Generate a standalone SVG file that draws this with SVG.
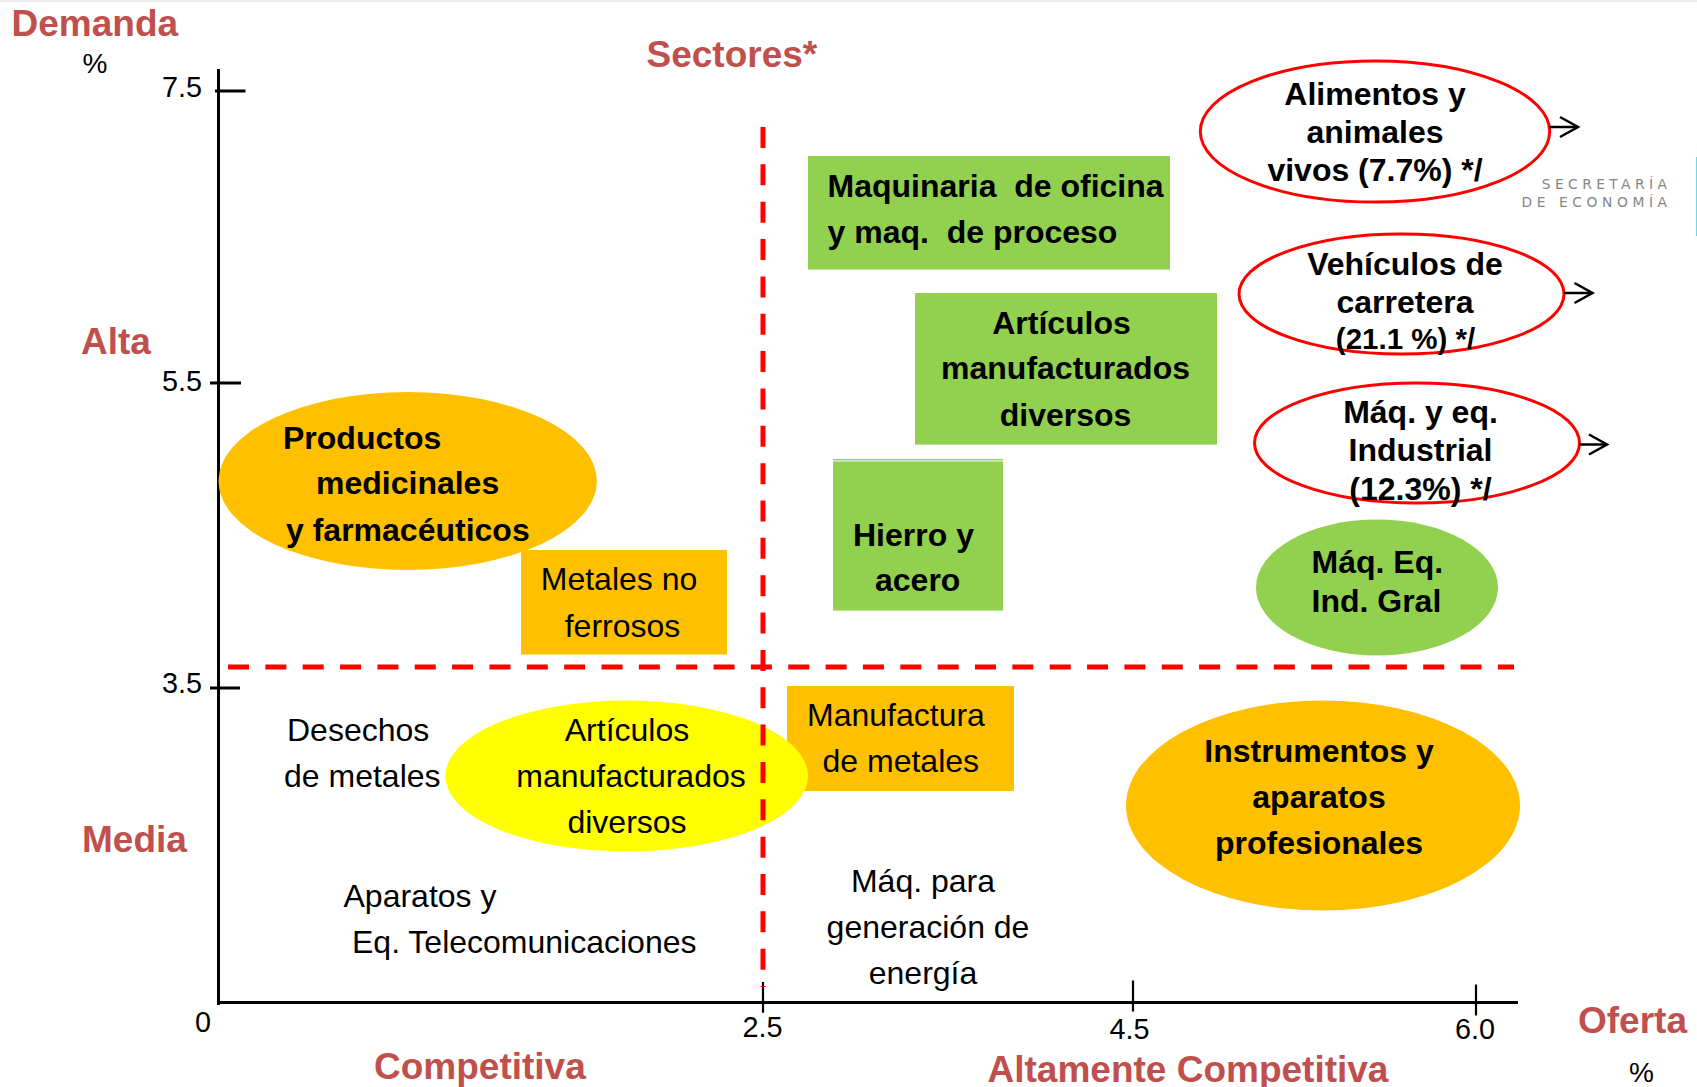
<svg xmlns="http://www.w3.org/2000/svg" width="1697" height="1087" viewBox="0 0 1697 1087">
<style>
text{font-family:"Liberation Sans",Arial,sans-serif;font-size:32px;fill:#000;white-space:pre}
.b{font-weight:700}
.m{text-anchor:middle}
.h{font-weight:700;font-size:37px;fill:#C0504D}
.n{font-size:28.8px}
.p{font-size:28px}
.s{font-size:29.5px}
.lg{font-family:"DejaVu Sans",sans-serif;font-size:13.8px;fill:#858585}
.green{fill:#92D050}
.orange{fill:#FFC000}
.yellow{fill:#FFFF00}
.ring{fill:#fff;stroke:#FF0000;stroke-width:3}
.ax{stroke:#000;stroke-width:3;fill:none}
.tk{stroke:#000;stroke-width:2.2;fill:none}
.dash{stroke:#FF0000;stroke-width:5;stroke-dasharray:21 16.35;fill:none}
.ar{stroke:#000;stroke-width:2.5;fill:none;marker-end:url(#open)}
</style>
<defs>
<marker id="open" markerUnits="userSpaceOnUse" markerWidth="22" markerHeight="26" refX="20" refY="13" orient="auto" overflow="visible">
<path d="M2,3 L20,13 L2,23" fill="none" stroke="#000" stroke-width="2.5"/>
</marker>
</defs>
<rect width="1697" height="1087" fill="#fff"/>
<rect width="1697" height="2" fill="#ececec"/>
<rect x="1696" y="157" width="1" height="79" fill="#6fd6e6"/>

<g id="axes">
<path class="ax" d="M218.5 69V1005"/>
<path class="ax" d="M215 91H245.5M210 383H241M210 688H240"/>
<path class="ax" d="M217 1002.6H1518"/>
<path class="tk" d="M763 982V1012.7M1133 980.5V1011.5M1476 984.6V1015.6"/>
</g>

<g id="axis-labels">
<text class="h" x="11.5" y="35.7">Demanda</text>
<text class="p" x="82.5" y="72.5">%</text>
<text class="h" x="646.5" y="67">Sectores*</text>
<text class="h" x="81" y="353.6">Alta</text>
<text class="h" x="82" y="851.7">Media</text>
<text class="n" x="162" y="97">7.5</text>
<text class="n" x="162" y="391">5.5</text>
<text class="n" x="162" y="693">3.5</text>
<text class="n" x="195" y="1032">0</text>
<text class="n" x="742.5" y="1037">2.5</text>
<text class="n" x="1109.5" y="1039">4.5</text>
<text class="n" x="1455" y="1039">6.0</text>
<text class="h" x="374" y="1079">Competitiva</text>
<text class="h" x="987.5" y="1082">Altamente Competitiva</text>
<text class="h" x="1578" y="1033">Oferta</text>
<text class="p" x="1629" y="1081.7">%</text>
</g>

<g id="logo">
<text class="lg" x="1541.7" y="189" textLength="125.3">SECRETARÍA</text>
<text class="lg" x="1521.5" y="207.3" textLength="145.5">DE ECONOMÍA</text>
</g>

<g id="productos-medicinales">
<ellipse class="orange" cx="407.7" cy="481" rx="189.2" ry="89"/>
<text class="b" x="283" y="448.5">Productos</text>
<text class="b" x="316" y="494">medicinales</text>
<text class="b" x="286" y="540.5">y farmacéuticos</text>
</g>
<g id="metales-no-ferrosos">
<rect class="orange" x="521" y="550" width="206" height="104.5"/>
<text class="m" x="619" y="590">Metales no</text>
<text class="m" x="622.5" y="636.5">ferrosos</text>
</g>
<g id="maquinaria-oficina">
<rect class="green" x="808" y="156" width="362" height="113.6"/>
<text class="b" x="827.5" y="197">Maquinaria  de oficina</text>
<text class="b" x="827.5" y="242.6">y maq.  de proceso</text>
</g>
<g id="articulos-verde">
<rect class="green" x="915" y="293" width="302" height="151.6"/>
<text class="b m" x="1061.5" y="333.5">Artículos</text>
<text class="b m" x="1065.5" y="379">manufacturados</text>
<text class="b m" x="1065.5" y="425.6">diversos</text>
</g>
<g id="hierro-acero">
<rect class="green" x="833" y="459" width="170" height="151.6"/>
<rect x="833" y="460.4" width="170" height="1" fill="#fff"/>
<text class="b" x="853" y="545.6">Hierro y</text>
<text class="b" x="875" y="591">acero</text>
</g>
<g id="alimentos">
<ellipse class="ring" cx="1375" cy="131.5" rx="174.7" ry="70.6"/>
<text class="b m" x="1375" y="105">Alimentos y</text>
<text class="b m" x="1375" y="143">animales</text>
<text class="b m" x="1375" y="181">vivos (7.7%) */</text>
</g>
<g id="vehiculos">
<ellipse class="ring" cx="1401.5" cy="294" rx="162.5" ry="60"/>
<text class="b m" x="1405" y="274.5">Vehículos de</text>
<text class="b m" x="1405" y="312.7">carretera</text>
<text class="b m s" x="1405.5" y="348.5">(21.1 %) */</text>
</g>
<g id="maq-industrial">
<ellipse class="ring" cx="1417" cy="443" rx="162.5" ry="60"/>
<text class="b m" x="1420.5" y="423">Máq. y eq.</text>
<text class="b m" x="1420.5" y="461">Industrial</text>
<text class="b m" x="1420.5" y="500">(12.3%) */</text>
</g>
<g id="maq-eq-ind">
<ellipse class="green" cx="1377" cy="587.5" rx="121" ry="68"/>
<text class="b" x="1311.5" y="573">Máq. Eq.</text>
<text class="b" x="1311.5" y="611.7">Ind. Gral</text>
</g>
<g id="manufactura-metales">
<rect class="orange" x="787" y="686" width="227" height="105"/>
<text x="807" y="726">Manufactura</text>
<text x="822.5" y="772">de metales</text>
</g>
<g id="articulos-amarillo">
<ellipse class="yellow" cx="626.7" cy="776" rx="181.3" ry="75.5"/>
<text class="m" x="627" y="740.7">Artículos</text>
<text class="m" x="631" y="786.7">manufacturados</text>
<text class="m" x="627" y="832.7">diversos</text>
</g>
<g id="desechos">
<text x="287" y="740.7">Desechos</text>
<text x="284" y="786.7">de metales</text>
</g>
<g id="aparatos">
<text x="343.5" y="906.7">Aparatos y</text>
<text x="352" y="952.7">Eq. Telecomunicaciones</text>
</g>
<g id="maq-generacion">
<text class="m" x="923" y="892">Máq. para</text>
<text class="m" x="928" y="938">generación de</text>
<text class="m" x="923" y="983.6">energía</text>
</g>
<g id="instrumentos">
<ellipse class="orange" cx="1323" cy="805.5" rx="197" ry="105"/>
<text class="b m" x="1319" y="762">Instrumentos y</text>
<text class="b m" x="1319" y="808">aparatos</text>
<text class="b m" x="1319" y="854">profesionales</text>
</g>

<g id="connectors">
<path class="dash" d="M763 127V987"/>
<path class="dash" d="M228 667H1514"/>
<path class="ar" d="M1549 127H1578"/>
<path class="ar" d="M1564 293H1592.5"/>
<path class="ar" d="M1579 444.5H1607"/>
</g>
</svg>
